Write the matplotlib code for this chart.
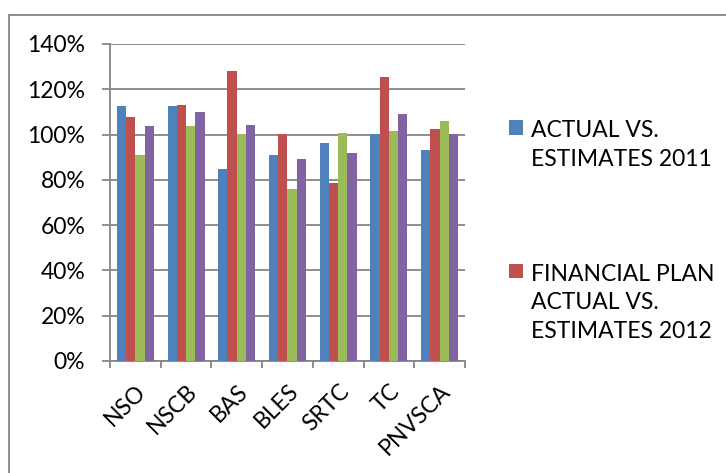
import matplotlib.pyplot as plt
import numpy as np
from matplotlib.patches import Rectangle

# categories and the four series
agencies = ['NSO', 'NSCB', 'BAS', 'BLES', 'SRTC', 'TC', 'PNVSCA']
actual_2011 = [112.7, 112.4, 84.7, 90.8, 96.1, 100.4, 93.1]
plan_2012 = [107.7, 113.0, 128.2, 100.2, 78.5, 125.3, 102.6]
series_3 = [91.1, 103.7, 100.4, 76.0, 100.8, 101.7, 106.1]
series_4 = [103.9, 109.8, 104.3, 89.2, 91.8, 109.0, 100.4]
legend_labels = ['ACTUAL VS.\nESTIMATES 2011', 'FINANCIAL PLAN\nACTUAL VS.\nESTIMATES 2012']
yticks = [0, 20, 40, 60, 80, 100, 120, 140]

colors = ['#4F81BD', '#C0504D', '#9BBB59', '#8064A2']
plt.rcParams['font.family'] = ['Lato', 'DejaVu Sans']

fig = plt.figure(figsize=(7.26, 4.73), dpi=100)
ax = fig.add_axes([0.1515, 0.2368, 0.489, 0.6702])

x = np.arange(len(agencies))
w = 0.183
bars = []
for i, vals in enumerate([actual_2011, plan_2012, series_3, series_4]):
    b = ax.bar(x + (i - 1.5) * w, vals, w, color=colors[i], zorder=3)
    bars.append(b)

ax.set_xlim(-0.5, len(agencies) - 0.5)
ax.set_ylim(0, 140)
ax.set_yticks(yticks)
ax.set_yticklabels([f'{t}%' for t in yticks])
ax.yaxis.grid(True, color='#868686', linewidth=1.3, zorder=0)

# ticks at category boundaries like the original
ax.set_xticks(np.arange(-0.5, len(agencies), 1.0))
ax.set_xticklabels([])
ax.set_xticks(x, minor=True)
ax.set_xticklabels(agencies, minor=True, rotation=45, ha='right',
                   rotation_mode='anchor', fontsize=16.5)
ax.tick_params(axis='x', which='minor', length=0, pad=14)
ax.tick_params(axis='x', which='major', length=5, color='#868686', width=1.3)
ax.tick_params(axis='y', length=5.8, color='#868686', width=1.3, labelsize=16.5, pad=12)

for s in ['top', 'right']:
    ax.spines[s].set_visible(False)
for s in ['left', 'bottom']:
    ax.spines[s].set_color('#868686')
    ax.spines[s].set_linewidth(1.3)

leg = fig.legend([bars[0], bars[1]], legend_labels, loc='upper left',
                 bbox_to_anchor=(0.673, 0.79), frameon=False, fontsize=16.5,
                 handlelength=0.62, handleheight=0.62, handletextpad=0.35,
                 labelspacing=4.1)
for t in leg.get_texts():
    t.set_linespacing(1.45)
# put each square next to the first line of its label
for row in leg._legend_handle_box.get_children():
    for hp in row.get_children():
        hp.align = 'top'

# outer chart border (cropped on right and bottom)
fig.patches.append(Rectangle((8.5 / 726, -0.1), 1.2, 1.1 - 14.7 / 473,
                             transform=fig.transFigure, fill=False,
                             edgecolor='#868686', linewidth=1.3))

fig.savefig('out.png', dpi=100)
